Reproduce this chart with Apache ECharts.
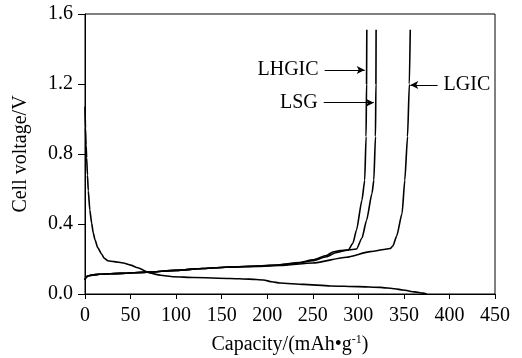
<!DOCTYPE html>
<html>
<head>
<meta charset="utf-8">
<script src="https://cdn.jsdelivr.net/npm/echarts@6/dist/echarts.min.js"></script>
<style>
  html, body { margin: 0; padding: 0; background: #fff; }
  #chart { width: 522px; height: 358px; }
</style>
</head>
<body>
<div id="chart"></div>
<script>
// discharge (overlapping for all three samples)
const dischargeCap = [0, 0.5, 1.2, 1.8, 2.7, 3.6, 5.3, 7.3, 9, 11, 14, 18, 21, 25, 32, 42, 50, 58, 71, 83, 97, 120, 159, 180, 196, 205, 214, 240, 269, 300, 324, 340, 349, 362, 371, 375];
const dischargeV = [1.07, 0.95, 0.85, 0.78, 0.68, 0.59, 0.48, 0.405, 0.35, 0.31, 0.265, 0.23, 0.205, 0.19, 0.185, 0.177, 0.165, 0.15, 0.12, 0.107, 0.099, 0.094, 0.089, 0.085, 0.08, 0.07, 0.063, 0.055, 0.046, 0.042, 0.038, 0.03, 0.023, 0.012, 0.005, 0];

// charge curves
const lhgicCap = [0, 1, 3, 8, 16, 40, 68, 100, 130, 159, 190, 214, 235, 250, 265, 272, 280, 289, 294, 298, 304, 307, 308.5, 309, 309.3];
const lhgicV = [0.08, 0.095, 0.103, 0.108, 0.113, 0.118, 0.125, 0.135, 0.146, 0.154, 0.16, 0.167, 0.18, 0.195, 0.22, 0.24, 0.248, 0.252, 0.29, 0.366, 0.537, 0.65, 0.9, 1.2, 1.51];

const lsgCap = [0, 1, 3, 8, 16, 40, 68, 100, 130, 159, 190, 214, 235, 250, 265, 275, 285, 298, 304, 309, 315, 317, 318.8, 319.3, 319.5];
const lsgV = [0.08, 0.095, 0.103, 0.108, 0.113, 0.118, 0.125, 0.135, 0.146, 0.154, 0.16, 0.166, 0.178, 0.19, 0.213, 0.236, 0.248, 0.257, 0.32, 0.42, 0.575, 0.65, 0.9, 1.2, 1.51];

const lgicCap = [0, 1, 3, 8, 16, 40, 68, 100, 130, 159, 190, 214, 250, 287, 313, 335, 338, 342, 348, 351, 354, 356, 357];
const lgicV = [0.08, 0.095, 0.103, 0.108, 0.113, 0.118, 0.125, 0.135, 0.146, 0.154, 0.158, 0.163, 0.177, 0.21, 0.242, 0.26, 0.275, 0.33, 0.46, 0.65, 0.9, 1.2, 1.51];

const xTicks = [0, 50, 100, 150, 200, 250, 300, 350, 400, 450];
const yTicks = [0.0, 0.4, 0.8, 1.2, 1.6];

// label arrows: [name, fromCap, toCap, voltage]
const arrowNames = ['LHGIC', 'LSG', 'LGIC'];
const arrowFrom = [263, 262, 387];
const arrowTo = [307, 317, 357];
const arrowV = [1.28, 1.093, 1.194];

const zip = (xs, ys) => xs.map((x, i) => [x, ys[i]]);
const font = 'Liberation Serif';

const chart = echarts.init(document.getElementById('chart'));

const arrowLines = arrowNames.map((n, i) => [
  { name: n, coord: [arrowFrom[i], arrowV[i]] },
  { coord: [arrowTo[i], arrowV[i]] }
]);

const baseLine = {
  type: 'line',
  showSymbol: false,
  smooth: 0.2,
  smoothMonotone: 'x',
  lineStyle: { color: '#000', width: 1.6 },
  itemStyle: { color: '#000' },
  animation: false
};

chart.setOption({
  animation: false,
  grid: { left: 85, right: 27, top: 14, bottom: 64, show: true, borderColor: '#000', borderWidth: 1,
    outerBoundsMode: 'none', containLabel: false },
  xAxis: {
    type: 'value',
    min: 0, max: 450, interval: 50,
    name: '{a|Capacity/(mAh•g}{s|-1}{a|)}',
    nameLocation: 'middle',
    nameGap: 40,
    nameTextStyle: {
      rich: {
        a: { fontFamily: font, fontSize: 20, color: '#000' },
        s: { fontFamily: font, fontSize: 12, color: '#000', verticalAlign: 'top', padding: [0, 0, 10, 0] }
      }
    },
    axisLine: { lineStyle: { color: '#000', width: 1 } },
    axisTick: { inside: false, length: 5, lineStyle: { color: '#000' } },
    axisLabel: { fontFamily: font, fontSize: 20, color: '#000', margin: 12,
      formatter: v => xTicks.includes(v) ? String(v) : '' },
    splitLine: { show: false }
  },
  yAxis: {
    type: 'value',
    min: 0, max: 1.6, interval: 0.4,
    name: 'Cell voltage/V',
    nameLocation: 'middle',
    nameGap: 54,
    nameTextStyle: { fontFamily: font, fontSize: 20, color: '#000' },
    axisLine: { show: true, lineStyle: { color: '#000', width: 1 } },
    axisTick: { show: true, inside: false, length: 7, lineStyle: { color: '#000' } },
    axisLabel: { fontFamily: font, fontSize: 20, color: '#000', margin: 12,
      formatter: v => yTicks.some(t => Math.abs(t - v) < 1e-6) ? v.toFixed(1) : '' },
    splitLine: { show: false }
  },
  series: [
    Object.assign({}, baseLine, { name: 'discharge', data: zip(dischargeCap, dischargeV) }),
    Object.assign({}, baseLine, { name: 'LHGIC', data: zip(lhgicCap, lhgicV),
      markLine: {
        silent: true,
        symbol: ['none', 'arrow'],
        symbolSize: [6, 8],
        lineStyle: { color: '#000', width: 1, type: 'solid' },
        label: { show: true, position: 'start', distance: 6, formatter: '{b}',
          fontFamily: font, fontSize: 20, color: '#000' },
        data: arrowLines
      }
    }),
    Object.assign({}, baseLine, { name: 'LSG', data: zip(lsgCap, lsgV) }),
    Object.assign({}, baseLine, { name: 'LGIC', data: zip(lgicCap, lgicV) })
  ]
});
</script>
</body>
</html>
